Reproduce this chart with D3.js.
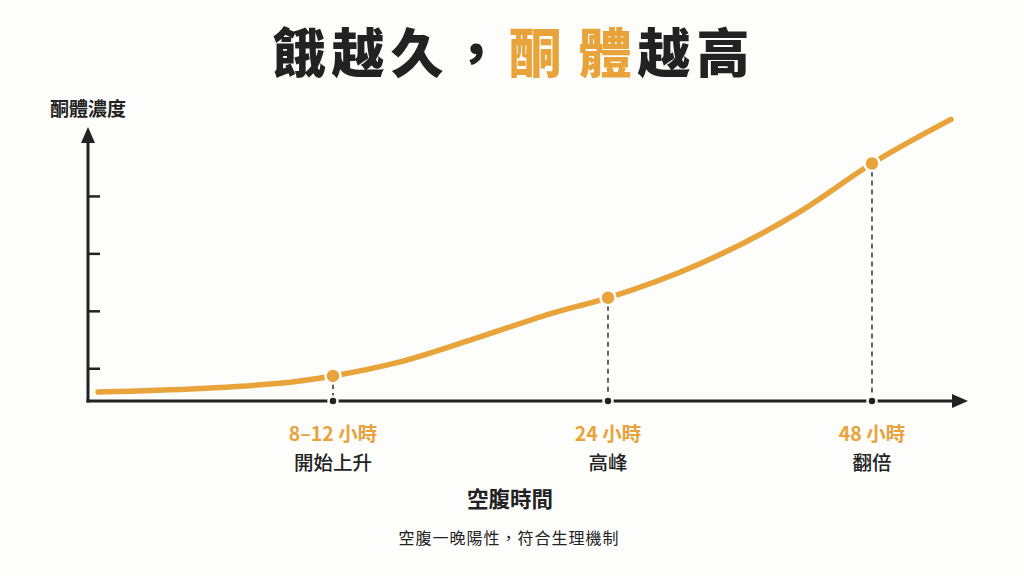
<!DOCTYPE html>
<html><head><meta charset="utf-8">
<script src="https://cdn.jsdelivr.net/npm/d3@7"></script>
<style>
html,body{margin:0;padding:0;background:#fdfdfc;}
svg{display:block;font-family:"Noto Sans CJK TC","Noto Sans",sans-serif;}
</style></head><body>
<svg id="c" width="1024" height="576"></svg>
<script>
// ---- data ----
const titleParts = [
  {text:"餓越久，", color:"dark", gap:0},
  {text:"酮", color:"orange", gap:0},
  {text:"體", color:"orange", gap:11},
  {text:"越高", color:"dark", gap:0}
];
const yAxisLabel = "酮體濃度";
const xAxisLabel = "空腹時間";
const footnote = "空腹一晚陽性，符合生理機制";
// fasting progress (relative time units) and ketone level (relative units)
const curveX = [1.14, 12.73, 24.09, 27.84, 35.45, 44.55, 52.5, 59.09, 69.55, 80.91, 89.09, 98.07];
const curveY = [0.587, 0.648, 0.779, 0.866, 1.110, 1.546, 1.948, 2.227, 2.820, 3.727, 4.564, 5.332];
const markerX = [27.84, 59.09, 89.09];
const markerY = [0.866, 2.227, 4.564];
const markerTime = ["8–12 小時", "24 小時", "48 小時"];
const markerDesc = ["開始上升", "高峰", "翻倍"];
const yTicks = [1, 2, 3, 4];

// ---- setup ----
const ORANGE = "#e8a33b", DARK = "#222222", BG = "#fdfdfc";
const svg = d3.select("#c");
const x = d3.scaleLinear().domain([0, 100]).range([88, 968]);
const y = d3.scaleLinear().domain([0.43, 5.2]).range([401, 127]);

// title
const title = svg.append("text").attr("x", 514).attr("y", 73)
  .attr("text-anchor", "middle").attr("font-size", 53).attr("font-weight", 900)
  .attr("letter-spacing", 6);
titleParts.forEach(p => title.append("tspan").text(p.text).attr("dx", p.gap)
  .attr("fill", p.color === "orange" ? ORANGE : DARK));

// y axis label
svg.append("text").attr("x", x(0)).attr("y", 116).attr("text-anchor", "middle")
  .attr("font-size", 19).attr("font-weight", 700).attr("fill", DARK).text(yAxisLabel);

// y ticks
const yAx = svg.append("g").attr("transform", `translate(${x(0)},0)`)
  .call(d3.axisRight(y).tickValues(yTicks).tickSize(12).tickFormat(""));
yAx.select(".domain").remove();
yAx.selectAll(".tick line").attr("stroke", DARK).attr("stroke-width", 2.5);

// dashed drop lines
svg.append("g").selectAll("line").data(markerX).join("line")
  .attr("x1", d => x(d)).attr("x2", d => x(d))
  .attr("y1", (d, i) => y(markerY[i]) + 8).attr("y2", y.range()[0] - 5)
  .attr("stroke", DARK).attr("stroke-width", 1.4).attr("stroke-dasharray", "5,4");

// axes lines with arrows
const y0 = y.range()[0];
svg.append("line").attr("x1", x(0)).attr("x2", x(0)).attr("y1", y0 + 1.5).attr("y2", 140)
  .attr("stroke", DARK).attr("stroke-width", 3);
svg.append("path").attr("d", `M${x(0)},127 L${x(0)-7},143 L${x(0)+7},143 Z`).attr("fill", DARK);
svg.append("line").attr("x1", x(0) - 1.5).attr("x2", 955).attr("y1", y0).attr("y2", y0)
  .attr("stroke", DARK).attr("stroke-width", 3);
svg.append("path").attr("d", `M968,${y0} L952,${y0-7} L952,${y0+7} Z`).attr("fill", DARK);

// axis dots
svg.append("g").selectAll("circle").data(markerX).join("circle")
  .attr("cx", d => x(d)).attr("cy", y0).attr("r", 4.5)
  .attr("fill", DARK).attr("stroke", BG).attr("stroke-width", 2.5);

// curve
const pts = curveX.map((d, i) => [d, curveY[i]]);
svg.append("path").datum(pts)
  .attr("d", d3.line().x(d => x(d[0])).y(d => y(d[1])).curve(d3.curveMonotoneX))
  .attr("fill", "none").attr("stroke", ORANGE).attr("stroke-width", 5.5).attr("stroke-linecap", "round");

// markers on curve
svg.append("g").selectAll("circle").data(markerX).join("circle")
  .attr("cx", d => x(d)).attr("cy", (d, i) => y(markerY[i])).attr("r", 7.5)
  .attr("fill", ORANGE).attr("stroke", BG).attr("stroke-width", 2.5);

// marker labels
svg.append("g").selectAll("text").data(markerX).join("text")
  .attr("x", d => x(d)).attr("y", 441).attr("text-anchor", "middle")
  .attr("font-size", 19.5).attr("font-weight", 700).attr("fill", ORANGE)
  .text((d, i) => markerTime[i]);
svg.append("g").selectAll("text").data(markerX).join("text")
  .attr("x", d => x(d)).attr("y", 470).attr("text-anchor", "middle")
  .attr("font-size", 19.5).attr("font-weight", 500).attr("fill", DARK)
  .text((d, i) => markerDesc[i]);

// x axis title & footnote
svg.append("text").attr("x", 510).attr("y", 507).attr("text-anchor", "middle")
  .attr("font-size", 21.5).attr("font-weight", 700).attr("fill", DARK).text(xAxisLabel);
svg.append("text").attr("x", 509).attr("y", 544).attr("text-anchor", "middle")
  .attr("font-size", 16).attr("font-weight", 400).attr("fill", DARK)
  .attr("letter-spacing", 1).text(footnote);
</script>
</body></html>
